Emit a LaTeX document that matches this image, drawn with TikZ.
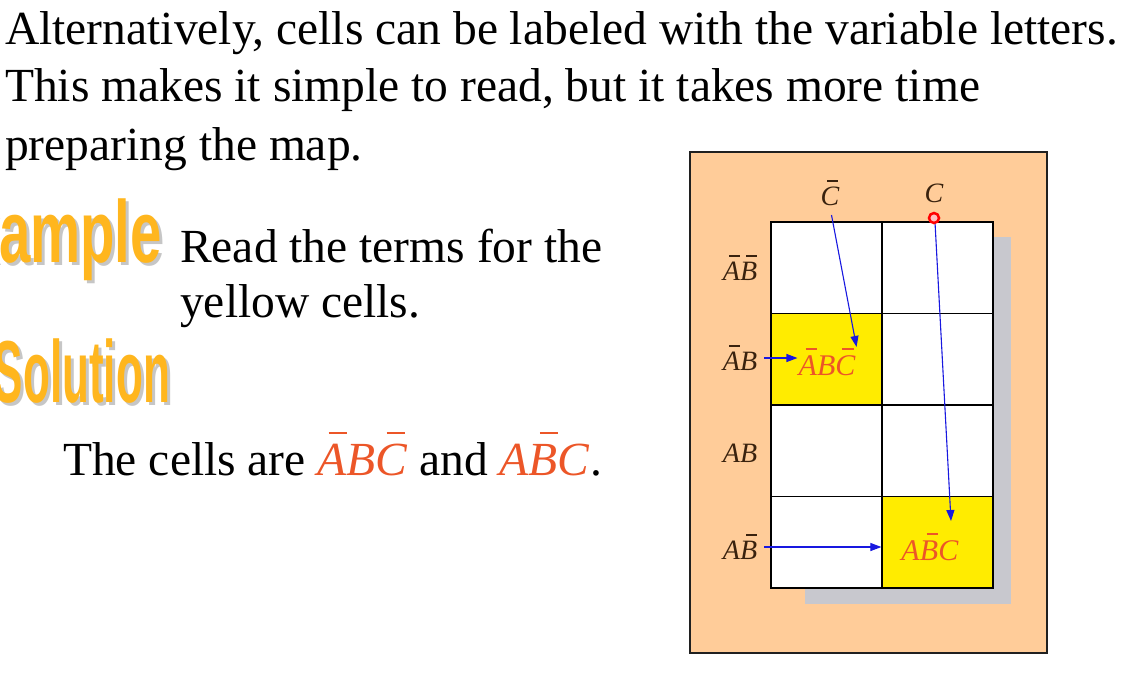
\documentclass[tikz,border=0pt]{standalone}
\usepackage{fontspec}
\setmainfont{Liberation Serif}
\newfontfamily\artfont{Liberation Sans}
\definecolor{peach}{RGB}{255,204,153}
\definecolor{kmapyel}{RGB}{255,236,0}
\definecolor{termred}{RGB}{236,86,40}
\definecolor{labbrown}{RGB}{58,34,14}
\definecolor{arrblue}{RGB}{24,24,224}
\definecolor{shadegray}{RGB}{200,200,206}
\definecolor{artorange}{RGB}{255,182,30}
\usetikzlibrary{arrows.meta,positioning,calc}
% italic letter with a short raised bar
\newcommand{\nb}[1]{{\itshape\rlap{\hspace{0.23em}\rule[0.86em]{0.38em}{0.055em}}#1}}
\newcommand{\vl}[1]{\textit{#1}}
\tikzset{
  bodytxt/.style={anchor=base west,inner sep=0pt,font=\fontsize{47.5}{56}\selectfont},
  arttxt/.style={anchor=base east,inner sep=0pt,
    font=\artfont\bfseries\fontsize{88}{90}\selectfont,text=artorange},
  artshd/.style={arttxt,text=gray!45},
  panel/.style={fill=peach,draw=gray!25!black,line width=1.5pt},
  cellbox/.style={draw=black,line width=1.2pt,minimum width=111pt,
    minimum height=91.5pt,inner sep=0pt},
  kmlab/.style={inner sep=1pt,text=labbrown,font=\fontsize{28}{30}\selectfont},
  celltxt/.style={inner sep=1pt,text=termred,font=\fontsize{30}{30}\selectfont},
  pointarr/.style={-{Triangle[length=11pt,width=8pt]},arrblue,line width=1.1pt},
  ptr/.style={circle,draw=red,line width=2.5pt,fill=red!25,minimum size=10pt,inner sep=0pt},
}
\begin{document}
\begin{tikzpicture}[x=1pt,y=-1pt]
  \useasboundingbox (0,0) rectangle (1126,673);
  % slide text
  \node[bodytxt] (l1) at (5,44) {Alternatively, cells can be labeled with the variable letters.};
  \node[bodytxt] (l2) at (5,101) {This makes it simple to read, but it takes more time};
  \node[bodytxt] (l3) at (5,160) {preparing the map.};
  \node[artshd,xscale=0.64] (exShd) at (165,265) {Example};
  \node[arttxt,xscale=0.64] (exTxt) at (162,262) {Example};
  \node[artshd,xscale=0.5] (soShd) at (173,405) {Solution};
  \node[arttxt,xscale=0.5] (soTxt) at (170,402) {Solution};
  \node[bodytxt] (rd1) at (180,262) {Read the terms for the};
  \node[bodytxt] (rd2) at (180,317) {yellow cells.};
  \node[bodytxt] (ans) at (63,475) {The cells are
    {\color{termred}\nb{A}\vl{B}\nb{C}} and {\color{termred}\vl{A}\nb{B}\vl{C}}.};
  % karnaugh map
  \draw[panel] (690,152) rectangle (1047,653);
  \fill[shadegray] (805,237) rectangle (1011,604);
  \foreach \r/\c/\f in {1/1/white,1/2/white,2/1/kmapyel,2/2/white,
                        3/1/white,3/2/white,4/1/white,4/2/kmapyel}
    \node[cellbox,fill=\f] (c\r\c) at ({826.5+111*(\c-1)},{267.75+91.5*(\r-1)}) {};
  \node[kmlab] (lCn) at (830,193) {\nb{C}};
  \node[kmlab] (lC) at (934,193) {\vl{C}};
  \node[kmlab] (lAnBn) at (740,268) {\nb{A}\nb{B}};
  \node[kmlab] (lAnB) at (740,358) {\nb{A}\vl{B}};
  \node[kmlab] (lAB) at (740,453) {\vl{A}\vl{B}};
  \node[kmlab] (lABn) at (740,547) {\vl{A}\nb{B}};
  \node[celltxt] (t21) at (827,362) {\nb{A}\vl{B}\nb{C}};
  \node[celltxt] (t42) at (930,547) {\vl{A}\nb{B}\vl{C}};
  \coordinate (cEnd) at (951,521);
  % pointers
  \draw[pointarr,shorten <=6pt] (lAnB.east) -- (lAnB.east -| t21.west);
  \draw[pointarr,shorten <=8pt] (lCn.south) -- (t21.north east);
  \draw[pointarr,shorten <=14pt] (lC.south) -- (cEnd);
  \draw[pointarr,shorten <=6pt] (lABn.east) -- (lABn.east -| c42.west);
  \node[ptr] (dot) at (934,218) {};
\end{tikzpicture}
\end{document}
